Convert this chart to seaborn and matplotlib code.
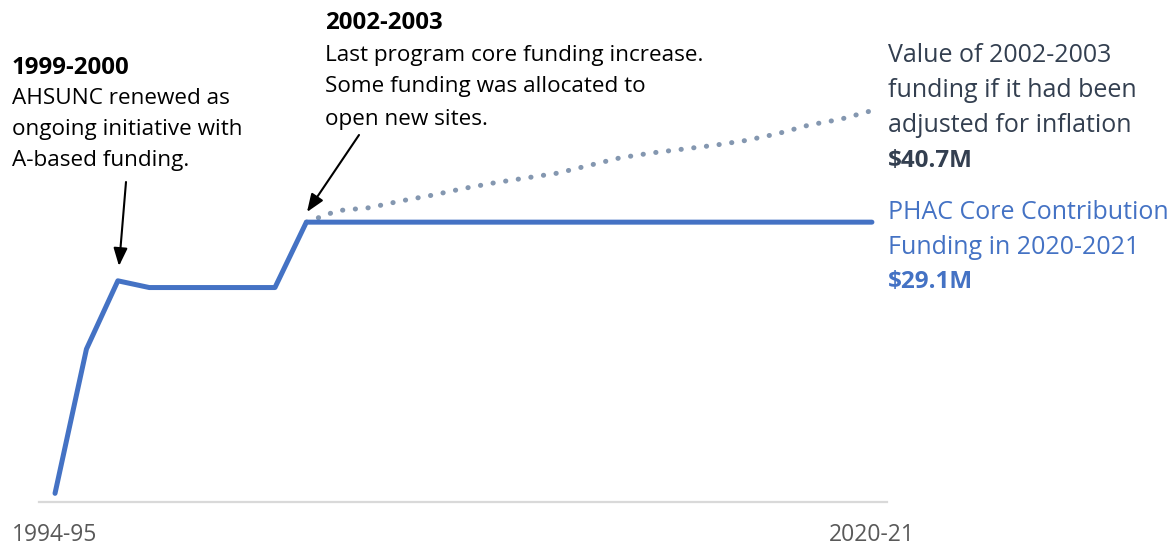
import matplotlib
matplotlib.use("Agg")
import matplotlib.pyplot as plt
import seaborn as sns
import pandas as pd

# ---- data ----
years = list(range(1994, 2021))
core_funding = [0.9, 15.9, 23.0, 22.3, 22.3, 22.3, 22.3, 22.3] + [29.1] * 19
infl_years = list(range(2002, 2021))
infl_adjusted = [29.1, 30.3, 30.6, 31.3, 31.9, 32.6, 33.2, 33.7, 34.2, 35.0,
                 35.8, 36.3, 36.7, 37.1, 37.6, 38.3, 39.2, 39.8, 40.7]
tick_years = [1994, 2020]
tick_labels = ["1994-95", "2020-21"]

BLUE = "#4472C4"
GREY_BLUE = "#8497B0"
DARK = "#333F50"

sns.set_theme(style="white")
plt.rcParams["font.family"] = ["Open Sans", "DejaVu Sans"]

W, H = 1175, 548
fig = plt.figure(figsize=(W / 100, H / 100), dpi=100)
ax = fig.add_axes([39 / W, 1 - 502 / H, (887 - 39) / W, 502 / H])

df_core = pd.DataFrame({"year": years, "value": core_funding})
df_infl = pd.DataFrame({"year": infl_years, "value": infl_adjusted})

sns.lineplot(data=df_infl, x="year", y="value", ax=ax, color=GREY_BLUE,
             lw=3.6, linestyle=(0, (0.05, 2.5)), dash_capstyle="round", zorder=2)
sns.lineplot(data=df_core, x="year", y="value", ax=ax, color=BLUE,
             lw=3.6, solid_capstyle="round", solid_joinstyle="round", zorder=3)

ax.set_xlim(1993.49, 2020.48)
ax.set_ylim(0, 52.2)
ax.set_xlabel("")
ax.set_ylabel("")
ax.set_yticks([])
ax.set_xticks(tick_years)
ax.set_xticklabels(tick_labels, fontsize=16.5, color="#595959")
ax.tick_params(axis="x", length=0, pad=15)
for s in ["top", "left", "right"]:
    ax.spines[s].set_visible(False)
ax.spines["bottom"].set_color("#d9d9d9")
ax.spines["bottom"].set_linewidth(1.6)


def fx(px):
    return px / W


def fy(py):
    return 1 - py / H


def block(x, y0, dy, lines, size, color, bold_idx=(), bold_size=None):
    for i, t in enumerate(lines):
        b = i in bold_idx
        fig.text(fx(x), fy(y0 + i * dy), t,
                 fontsize=(bold_size or size) if b else size, color=color,
                 fontweight="bold" if b else "normal",
                 ha="left", va="center")


block(12, 68, 31, ["1999-2000", "AHSUNC renewed as", "ongoing initiative with",
                   "A-based funding."], 16.2, "black", bold_idx=(0,), bold_size=17.3)
block(325, 23, 32, ["2002-2003", "Last program core funding increase.",
                    "Some funding was allocated to", "open new sites."], 16.2, "black",
      bold_idx=(0,), bold_size=17.3)
block(888, 55, 35.5, ["Value of 2002-2003", "funding if it had been",
                      "adjusted for inflation", "$40.7M"], 18, DARK, bold_idx=(3,),
      bold_size=17.5)
block(888, 212, 35, ["PHAC Core Contribution", "Funding in 2020-2021", "$29.1M"],
      18, BLUE, bold_idx=(2,), bold_size=17.5)

# arrows (figure pixel coordinates)
arrow_kw = dict(arrowstyle="-|>,head_length=0.9,head_width=0.35", color="black",
                lw=1.5, shrinkA=0, shrinkB=0)
ax.annotate("", xy=(fx(119), fy(266)), xycoords="figure fraction",
            xytext=(fx(126), fy(182)), textcoords="figure fraction",
            arrowprops=arrow_kw)
ax.annotate("", xy=(fx(307), fy(212)), xycoords="figure fraction",
            xytext=(fx(359), fy(135)), textcoords="figure fraction",
            arrowprops=arrow_kw)

fig.savefig("out.png", dpi=100)
